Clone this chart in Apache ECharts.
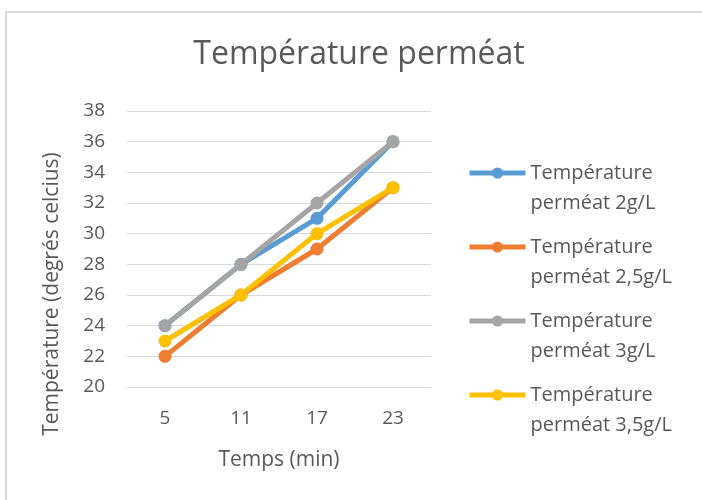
<!DOCTYPE html>
<html>
<head>
<meta charset="utf-8">
<script src="https://cdn.jsdelivr.net/npm/echarts@6/dist/echarts.min.js"></script>
<style>
  html, body { margin: 0; padding: 0; background: #fff; }
  #main { width: 702px; height: 500px; }
</style>
</head>
<body>
<div id="main"></div>
<script>
const categories = ['5', '11', '17', '23']
const seriesNames = [
  'Température\nperméat 2g/L',
  'Température\nperméat 2,5g/L',
  'Température\nperméat 3g/L',
  'Température\nperméat 3,5g/L'
]
const temp2 = [24, 28, 31, 36]
const temp25 = [22, 26, 29, 33]
const temp3 = [24, 28, 32, 36]
const temp35 = [23, 26, 30, 33]
const colors = ['#5B9BD5', '#ED7D31', '#A5A5A5', '#FFC000']

const font = 'Open Sans'
const textColor = '#595959'

function makeSeries (name, data, color) {
  return {
    name: name,
    type: 'line',
    data: data,
    symbol: 'circle',
    symbolSize: 13,
    itemStyle: { color: color },
    lineStyle: { width: 5, color: color },
    emphasis: { disabled: true },
    animation: false
  }
}

const option = {
  animation: false,
  title: {
    text: 'Température perméat',
    left: 354,
    top: 34,
    textAlign: 'center',
    textStyle: { fontFamily: font, fontSize: 32, fontWeight: 'normal', color: textColor }
  },
  graphic: [{
    type: 'rect',
    shape: { x: 6, y: 12, width: 800, height: 600 },
    style: { fill: 'none', stroke: '#d9d9d9', lineWidth: 2 },
    silent: true
  }],
  grid: { left: 127, right: 271, top: 111, bottom: 113 },
  legend: {
    orient: 'vertical',
    left: 467,
    top: 128,
    padding: 0,
    itemWidth: 56,
    itemHeight: 14,
    itemGap: -16,
    data: seriesNames,
    // leading blank line so the first text line sits level with the icon
    formatter: function (name) { return '\n' + name },
    lineStyle: { width: 5 },
    textStyle: {
      fontFamily: font, fontSize: 20, color: textColor, lineHeight: 30
    }
  },
  xAxis: {
    type: 'category',
    data: categories,
    name: 'Temps (min)',
    nameLocation: 'middle',
    nameGap: 63,
    nameTextStyle: { fontFamily: font, fontSize: 21, color: textColor },
    axisLine: { show: false },
    axisTick: { show: false },
    axisLabel: { fontFamily: font, fontSize: 19, color: textColor, margin: 22 }
  },
  yAxis: {
    type: 'value',
    min: 20,
    max: 38,
    interval: 2,
    name: 'Température (degrés celcius)',
    nameLocation: 'middle',
    nameGap: 64,
    nameTextStyle: { fontFamily: font, fontSize: 21, color: textColor, padding: [0, 90, 0, 0] },
    axisLine: { show: false },
    axisTick: { show: false },
    axisLabel: { fontFamily: font, fontSize: 19, color: textColor, margin: 22 },
    splitLine: { lineStyle: { color: '#d9d9d9', width: 1 } }
  },
  series: [
    makeSeries(seriesNames[0], temp2, colors[0]),
    makeSeries(seriesNames[1], temp25, colors[1]),
    makeSeries(seriesNames[2], temp3, colors[2]),
    makeSeries(seriesNames[3], temp35, colors[3])
  ]
}

echarts.init(document.getElementById('main'), null, { renderer: 'canvas' }).setOption(option)
</script>
</body>
</html>
